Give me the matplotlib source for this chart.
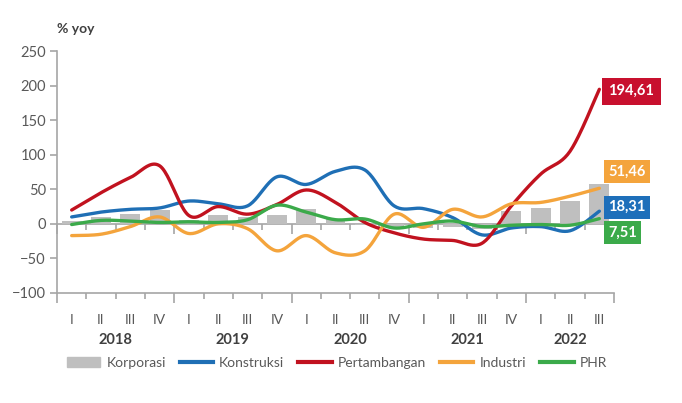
import matplotlib
matplotlib.use('Agg')
import matplotlib.pyplot as plt
import numpy as np
from matplotlib.lines import Line2D
from matplotlib.patches import Patch
from matplotlib.ticker import FixedLocator, NullFormatter

plt.rcParams['font.family'] = ['Lato', 'DejaVu Sans']

# data (% yoy), 2018 Q1 .. 2022 Q3
quarters = ['I', 'II', 'III', 'IV'] * 4 + ['I', 'II', 'III']
years = ['2018', '2019', '2020', '2021', '2022']
korporasi = [4, 10, 14, 20, 5, 13, 10, 13, 21, 7, -1, -5, -6, -5, -8, 18, 23, 33, 57]
konstruksi = [10, 17, 21, 23, 33, 29, 26, 68, 57, 76, 78, 26, 22, 9, -16, -6, -4, -10, 18.31]
pertambangan = [20, 45, 67, 84, 12, 25, 14, 28, 49, 31, 2, -13, -22, -24, -28, 26, 72, 105, 194.61]
industri = [-17, -15, -4, 10, -14, 0, -7, -39, -17, -42, -39, 14, -5, 21, 10, 29, 31, 40, 51.46]
phr = [-1, 5, 4, 2, 3, 2, 6, 27, 17, 6, 7, -6, 0, 4, -4, -2, -1, -2, 7.51]

grey = '#A6A6A6'
txt = '#595959'


def smooth(vals, n=24):
    # excel-like smoothed line (bezier through the points)
    p = np.column_stack([np.arange(len(vals), dtype=float), np.asarray(vals, float)])
    pe = np.vstack([p[0], p, p[-1]])
    t = np.linspace(0, 1, n)[:, None]
    out = []
    for i in range(len(p) - 1):
        p0, p1, p2, p3 = pe[i], pe[i + 1], pe[i + 2], pe[i + 3]
        c1 = p1 + (p2 - p0) / 6
        c2 = p2 - (p3 - p1) / 6
        seg = (1 - t) ** 3 * p1 + 3 * (1 - t) ** 2 * t * c1 + 3 * (1 - t) * t ** 2 * c2 + t ** 3 * p2
        out.append(seg if i == 0 else seg[1:])
    out = np.vstack(out)
    return out[:, 0], out[:, 1]


fig = plt.figure(figsize=(6.82, 4.03), dpi=100)
ax = fig.add_axes([0.0836, 0.273, 0.8167, 0.6004])

x = np.arange(len(quarters))
ax.bar(x, korporasi, width=0.68, color='#BFBFBF', zorder=1)

series = [
    (konstruksi, '#1F6FB5', 'Konstruksi'),
    (pertambangan, '#C1121F', 'Pertambangan'),
    (industri, '#F4A43C', 'Industri'),
    (phr, '#3BAA4A', 'PHR'),
]
for vals, col, name in series:
    xs, ys = smooth(vals)
    ax.plot(xs, ys, color=col, lw=2.4, solid_capstyle='round', zorder=3)

ax.set_xlim(-0.5, len(quarters) - 0.5)
ax.set_ylim(-100, 250)
ax.set_yticks(range(-100, 251, 50))
for s in ['top', 'right']:
    ax.spines[s].set_visible(False)
for s in ['left', 'bottom']:
    ax.spines[s].set_color(grey)
    ax.spines[s].set_linewidth(1.2)
ax.tick_params(axis='y', colors=grey, labelcolor=txt, labelsize=10.5, length=5, width=1.2, pad=3)

# boundaries between quarters / years
year_bounds = [-0.5, 3.5, 7.5, 11.5, 15.5, 18.5]
q_bounds = [b + 0.5 for b in range(-1, len(quarters)) if b + 0.5 not in year_bounds]
ax.xaxis.set_major_locator(FixedLocator(year_bounds))
ax.xaxis.set_minor_locator(FixedLocator(q_bounds))
ax.xaxis.set_major_formatter(NullFormatter())
ax.tick_params(axis='x', which='major', length=7, width=1.2, color=grey)
ax.tick_params(axis='x', which='minor', length=4, width=1.2, color=grey)

# zero line with ticks
zero = ax.secondary_xaxis(100 / 350)
zero.spines['bottom'].set_color(grey)
zero.spines['bottom'].set_linewidth(1.2)
zero.xaxis.set_major_locator(FixedLocator(year_bounds[:-1]))
zero.xaxis.set_minor_locator(FixedLocator(q_bounds))
zero.xaxis.set_major_formatter(NullFormatter())
zero.tick_params(which='major', length=7, width=1.2, color=grey)
zero.tick_params(which='minor', length=4, width=1.2, color=grey)

# quarter labels
qax = ax.secondary_xaxis('bottom')
qax.spines['bottom'].set_visible(False)
qax.set_xticks(x, quarters)
qax.tick_params(length=0, pad=15, labelsize=10, labelcolor=txt)

# year labels
yax = ax.secondary_xaxis('bottom')
yax.spines['bottom'].set_visible(False)
yax.set_xticks([1.5, 5.5, 9.5, 13.5, 17], years)
yax.tick_params(length=0, pad=29, labelsize=10.5, labelcolor='#404040')
for lab in yax.get_xticklabels():
    lab.set_fontweight('bold')

# end value boxes
boxes = [
    ('194,61', '#C8102E', 192, 0.45),
    ('51,46', '#F4A43C', 76, 0.3),
    ('18,31', '#1E6FBA', 24, 0.3),
    ('7,51', '#3BAA4A', -13, 0.3),
]
for label, col, ypos, pad in boxes:
    ax.text(18.3, ypos, label, color='white', fontweight='bold', fontsize=10.5,
            va='center', ha='left', clip_on=False, zorder=5,
            bbox=dict(boxstyle='square,pad=%s' % pad, fc=col, ec='none'))

fig.text(57 / 682, 1 - 29 / 403, '% yoy', fontsize=10, fontweight='bold', color='#404040',
         va='center', ha='left')

handles = [Patch(color='#BFBFBF')] + [Line2D([], [], color=c, lw=3) for _, c, _ in series]
labels = ['Korporasi'] + [n for _, _, n in series]
fig.legend(handles, labels, loc='center', bbox_to_anchor=(0.494, 0.099), ncol=5, frameon=False,
           fontsize=10, labelcolor=txt, handlelength=2.4, handletextpad=0.45, columnspacing=1.0)

fig.savefig('out.png', dpi=100)
